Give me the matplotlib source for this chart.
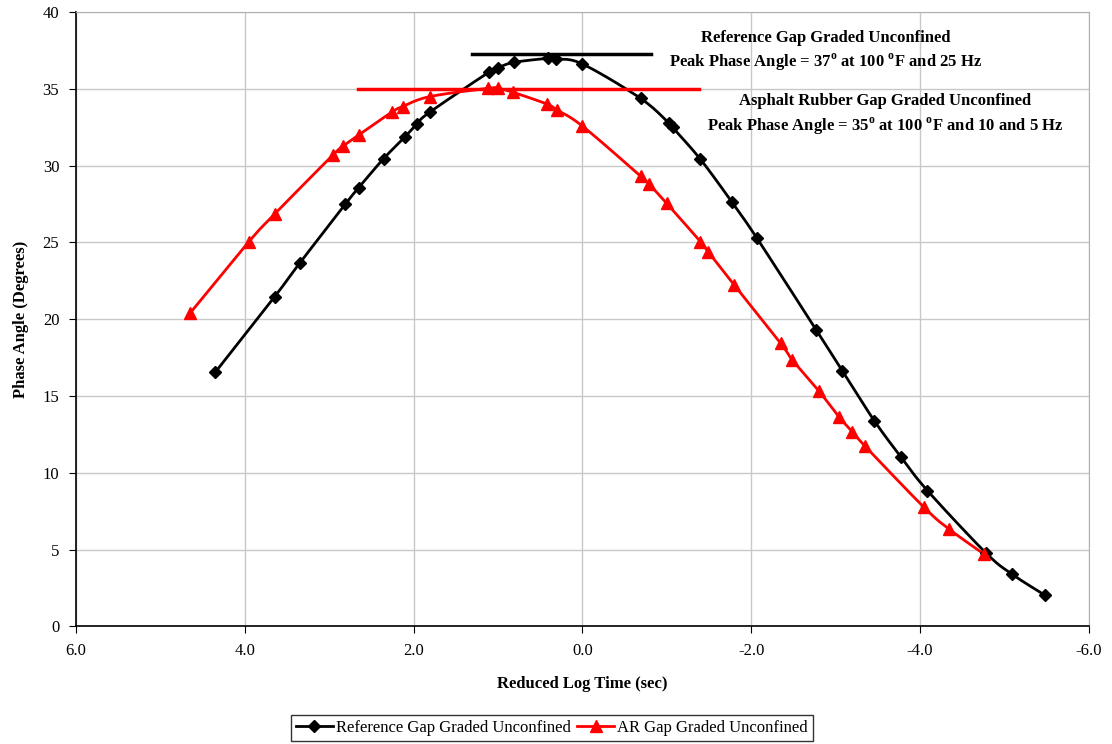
import numpy as np
import matplotlib
matplotlib.use("Agg")
import matplotlib.pyplot as plt
from matplotlib.lines import Line2D

plt.rcParams['font.family'] = ['Liberation Serif', 'DejaVu Serif']
plt.rcParams['mathtext.fontset'] = 'custom'
plt.rcParams['mathtext.rm'] = 'Liberation Serif:bold'
plt.rcParams['mathtext.bf'] = 'Liberation Serif:bold'

# ---- data ----
ref_x = [4.35, 3.645, 3.35, 2.81, 2.65, 2.355, 2.10, 1.96, 1.81, 1.11, 1.00, 0.81,
         0.41, 0.31, 0.00, -0.69, -1.03, -1.07, -1.40, -1.77, -2.07, -2.77, -3.08,
         -3.46, -3.78, -4.09, -4.78, -5.09, -5.48]
ref_y = [16.54, 21.47, 23.64, 27.48, 28.56, 30.45, 31.88, 32.71, 33.47, 36.07, 36.37,
         36.72, 36.98, 36.94, 36.62, 34.38, 32.75, 32.49, 30.41, 27.65, 25.27, 19.32,
         16.65, 13.39, 11.0, 8.84, 4.80, 3.41, 2.04]

ar_x = [4.65, 3.95, 3.645, 2.955, 2.83, 2.65, 2.26, 2.13, 1.81, 1.12, 1.00, 0.82,
        0.42, 0.30, 0.00, -0.69, -0.79, -1.00, -1.40, -1.49, -1.80, -2.35, -2.49,
        -2.80, -3.04, -3.20, -3.35, -4.05, -4.35, -4.76]
ar_y = [20.38, 25.05, 26.85, 30.69, 31.28, 31.99, 33.47, 33.84, 34.49, 35.03, 35.03,
        34.77, 34.01, 33.62, 32.58, 29.32, 28.80, 27.54, 25.05, 24.40, 22.23, 18.43,
        17.34, 15.35, 13.65, 12.68, 11.74, 7.75, 6.32, 4.71]

ref_peak_x = [1.305, -0.82]
ref_peak_y = [37.25, 37.25]
ar_peak_x = [2.66, -1.385]
ar_peak_y = [35.0, 35.0]

x_ticks = [6.0, 4.0, 2.0, 0.0, -2.0, -4.0, -6.0]
y_ticks = [0, 5, 10, 15, 20, 25, 30, 35, 40]


def smooth(xs, ys, sx=84.5, sy=15.36, n=12):
    """Catmull-Rom smoothing (like Excel's smoothed line) in pixel-scaled space."""
    P = np.column_stack([np.asarray(xs) * sx, np.asarray(ys) * sy])
    P = np.vstack([P[0], P, P[-1]])
    out = []
    for i in range(1, len(P) - 2):
        p0, p1, p2, p3 = P[i - 1], P[i], P[i + 1], P[i + 2]
        t = np.linspace(0, 1, n, endpoint=False)[:, None]
        pts = 0.5 * ((2 * p1) + (-p0 + p2) * t + (2 * p0 - 5 * p1 + 4 * p2 - p3) * t ** 2
                     + (-p0 + 3 * p1 - 3 * p2 + p3) * t ** 3)
        out.append(pts)
    out.append(P[-2][None, :])
    out = np.vstack(out)
    return out[:, 0] / sx, out[:, 1] / sy


fig = plt.figure(figsize=(11.12, 7.44), dpi=100)
ax = fig.add_axes([0.0683, 0.158, 0.9107, 0.8259])

ax.set_xlim(6, -6)
ax.set_ylim(0, 40)
ax.set_xticks(x_ticks)
ax.set_xticklabels([f"{v:.1f}" for v in x_ticks])
ax.set_yticks(y_ticks)
ax.set_yticklabels([str(v) for v in y_ticks])
ax.grid(True, color='#c8c8c8', linewidth=1.0)
ax.set_axisbelow(True)
for s in ['top', 'right']:
    ax.spines[s].set_color('#b0b0b0')
for s in ['left', 'bottom']:
    ax.spines[s].set_color('black')
    ax.spines[s].set_linewidth(1.2)
ax.tick_params(axis='both', labelsize=12, length=5, direction='out', pad=7)

rsx, rsy = smooth(ref_x, ref_y)
asx, asy = smooth(ar_x, ar_y)
ax.plot(rsx, rsy, color='black', lw=2.0, zorder=3)
ax.plot(ref_x, ref_y, ls='none', marker='D', ms=6.5, color='black', zorder=4)
ax.plot(asx, asy, color='#ff0000', lw=2.0, zorder=3)
ax.plot(ar_x, ar_y, ls='none', marker='^', ms=9, color='#ff0000', zorder=4)

ax.plot(ref_peak_x, ref_peak_y, color='black', lw=2.5, zorder=3)
ax.plot(ar_peak_x, ar_peak_y, color='#ff0000', lw=2.5, zorder=3)

ax.set_xlabel('Reduced Log Time (sec)', fontsize=12, fontweight='bold', labelpad=12)
ax.set_ylabel('Phase Angle (Degrees)', fontsize=12, fontweight='bold', labelpad=10)

def fx(px):
    return px / 1112.0
def fy(py):
    return 1 - py / 744.0

fig.text(fx(826), fy(38), 'Reference Gap Graded Unconfined', ha='center', va='center',
         fontsize=12, fontweight='bold')
fig.text(fx(826), fy(62), r'Peak Phase Angle = 37$^{\mathrm{o}}$ at 100 $^{\mathrm{o}}$F and 25 Hz',
         ha='center', va='center', fontsize=12, fontweight='bold')
fig.text(fx(885), fy(101), 'Asphalt Rubber Gap Graded Unconfined', ha='center', va='center',
         fontsize=12, fontweight='bold')
fig.text(fx(885), fy(126), r'Peak Phase Angle = 35$^{\mathrm{o}}$ at 100 $^{\mathrm{o}}$F and 10 and 5 Hz',
         ha='center', va='center', fontsize=12, fontweight='bold')

handles = [Line2D([], [], color='black', lw=2.0, marker='D', ms=6),
           Line2D([], [], color='#ff0000', lw=2.0, marker='^', ms=8)]
leg = fig.legend(handles, ['Reference Gap Graded Unconfined', 'AR Gap Graded Unconfined'],
                 loc='center', bbox_to_anchor=(fx(552), fy(728)), ncol=2, frameon=True,
                 fancybox=False, edgecolor='black', fontsize=12, handlelength=2.2,
                 handletextpad=0.2, columnspacing=0.4, borderpad=0.3)
leg.get_frame().set_linewidth(1.0)

fig.savefig('out.png', dpi=100)
